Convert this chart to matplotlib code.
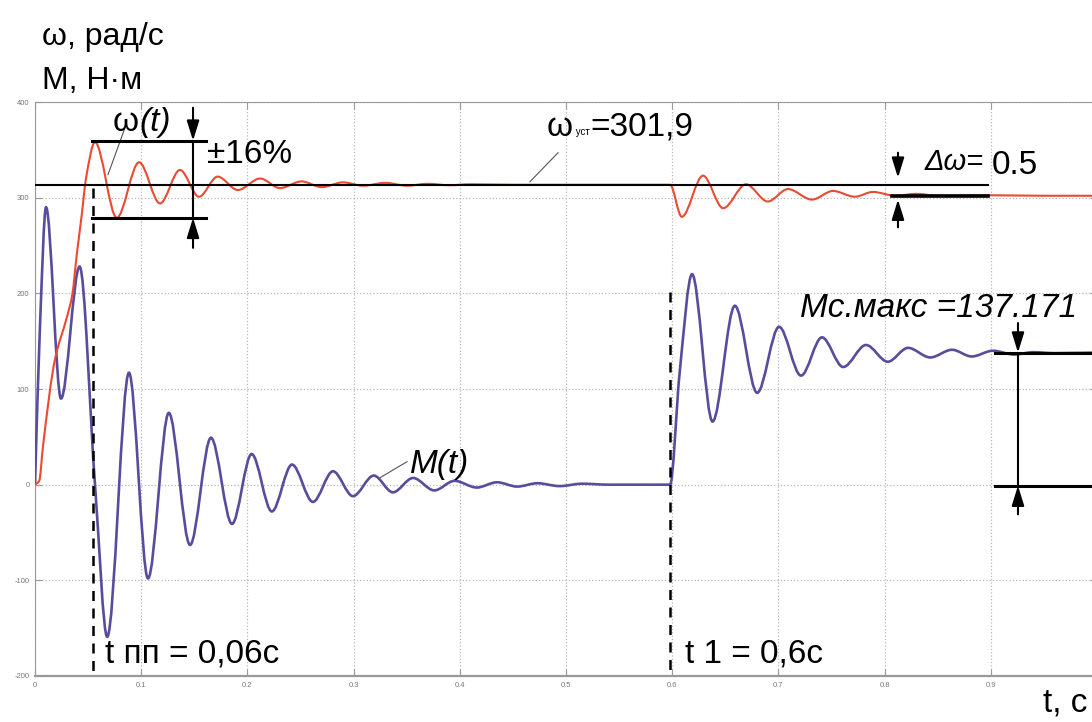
import numpy as np
import matplotlib
matplotlib.use("Agg")
import matplotlib.pyplot as plt
from matplotlib.path import Path
from matplotlib.patches import PathPatch

plt.rcParams['font.family'] = ['Liberation Sans', 'DejaVu Sans']
plt.rcParams['axes.unicode_minus'] = False

# --- values (time in s) ---
# angular speed omega(t), rad/s: extrema and a few shape points
w_t = [0, 0.004, 0.0075, 0.0188, 0.030, 0.035, 0.0395, 0.044, 0.048, 0.0565,
       0.077, 0.098, 0.1177, 0.1365, 0.1544, 0.172, 0.191, 0.212, 0.2307, 0.251,
       0.27, 0.29, 0.309, 0.33, 0.35, 0.37, 0.39, 0.41, 0.45, 0.50, 0.55, 0.598,
       0.609, 0.629, 0.648, 0.6695, 0.69, 0.709, 0.7316, 0.7514, 0.772, 0.789,
       0.81, 0.83, 0.85, 0.90, 0.95, 1.0]
w_v = [0, 4, 40, 131, 175, 198, 242, 282, 320, 358,
       279, 337, 294, 329, 301, 322, 308, 320, 310, 317,
       311, 316, 312.5, 315.5, 312.5, 314.5, 313, 314, 313.5, 313.5, 313.5, 313.5,
       280, 323, 289, 314, 296, 309, 298, 307, 301, 306,
       302, 304, 302, 302.5, 302, 302]

# torque M(t), N*m
m_t = [0, 0.0045, 0.0104, 0.0245, 0.042, 0.0565, 0.068, 0.0885, 0.1064, 0.126,
       0.146, 0.1657, 0.1855, 0.204, 0.223, 0.242, 0.2617, 0.2806, 0.2994, 0.319,
       0.337, 0.356, 0.376, 0.395, 0.416, 0.435, 0.454, 0.473, 0.494, 0.515, 0.54,
       0.598, 0.607, 0.6187, 0.638, 0.659, 0.68, 0.7006, 0.7213, 0.741, 0.761,
       0.7825, 0.803, 0.822, 0.843, 0.8635, 0.882, 0.902, 0.922, 0.94, 0.96, 1.0]
m_v = [0, 160, 290, 90, 228, 0, -159, 117, -98, 75,
       -63, 49, -41, 32, -28, 21, -18, 14, -12, 9.5,
       -8, 7, -6, 4, -3, 2.5, -2, 1.5, -1.5, 1, 0,
       0, 117, 220, 66, 187, 96, 165, 114, 154, 123,
       146, 128.5, 143, 133, 141, 134, 140, 136, 138.5, 137.5, 138]

x_ticks = [0, 0.1, 0.2, 0.3, 0.4, 0.5, 0.6, 0.7, 0.8, 0.9]
y_ticks = [-200, -100, 0, 100, 200, 300, 400]


def smooth_path(t, v):
    # cubic Bezier segments through the read points, tangents like PCHIP
    t = np.asarray(t, float)
    v = np.asarray(v, float)
    h = np.diff(t)
    d = np.diff(v) / h
    s = np.zeros_like(v)
    s[0] = d[0]
    for k in range(1, len(v) - 1):
        if d[k - 1] * d[k] > 0:
            w1 = 2 * h[k] + h[k - 1]
            w2 = h[k] + 2 * h[k - 1]
            s[k] = (w1 + w2) / (w1 / d[k - 1] + w2 / d[k])
    verts = [(t[0], v[0])]
    codes = [Path.MOVETO]
    for k in range(len(h)):
        verts += [(t[k] + h[k] / 3, v[k] + s[k] * h[k] / 3),
                  (t[k + 1] - h[k] / 3, v[k + 1] - s[k + 1] * h[k] / 3),
                  (t[k + 1], v[k + 1])]
        codes += [Path.CURVE4] * 3
    return Path(verts, codes)


fig = plt.figure(figsize=(10.92, 7.22), dpi=100)
ax = fig.add_axes([35 / 1092, 1 - 676 / 722, 1062 / 1092, 574 / 722])
ax.set_xlim(0, 1.0)
ax.set_ylim(-200, 400)
ax.set_xticks(x_ticks)
ax.set_yticks(y_ticks)
ax.set_xticklabels([str(x) if x else '0' for x in x_ticks])
ax.grid(True, linestyle=':', color='#b8b8b8', linewidth=0.9)
ax.tick_params(direction='in', top=True, right=True, length=5, color='#999999',
               labelsize=5.5, labelcolor='#777777', pad=4)
for sp in ax.spines.values():
    sp.set_color('#999999')
ax.spines['bottom'].set_linewidth(1.6)

red = '#ea4a30'
blue = '#5a4c9c'
ax.add_patch(PathPatch(smooth_path(m_t, m_v), facecolor='none', edgecolor=blue, lw=1.9, zorder=3))
ax.add_patch(PathPatch(smooth_path(w_t, w_v), facecolor='none', edgecolor=red, lw=1.5, zorder=3))

# annotation lines
k = dict(color='k', zorder=5)
ax.plot([0, 0.897], [313.5, 313.5], lw=1.5, **k)
ax.plot([0.0537, 0.161], [359.5, 359.5], lw=2.2, **k)
ax.plot([0.0537, 0.161], [279, 279], lw=2.2, **k)
ax.plot([0.1488, 0.1488], [359.5, 279], lw=1.5, **k)
ax.plot([0.0546, 0.0546], [310, -200], lw=1.8, ls=(0, (4, 3)), **k)
ax.plot([0.598, 0.598], [201.7, -200], lw=1.8, ls=(0, (4, 3)), **k)
ax.plot([0.807, 0.897], [302, 302], lw=2.6, **k)
ax.plot([0.904, 1.0], [138, 138], lw=2.2, **k)
ax.plot([0.904, 1.0], [-1, -1], lw=2.2, **k)
ax.plot([0.9256, 0.9256], [138, -1], lw=1.5, **k)

arrow = dict(arrowstyle='-|>,head_length=0.55,head_width=0.17', color='k', lw=1.5,
             mutation_scale=22, shrinkA=0, shrinkB=0)
for tail, tip in [((0.1488, 394), (0.1488, 359.5)), ((0.1488, 247.6), (0.1488, 279)),
                  ((0.8126, 347), (0.8126, 320.8)), ((0.8126, 269), (0.8126, 298)),
                  ((0.9256, 169), (0.9256, 138)), ((0.9256, -31), (0.9256, -1))]:
    ax.annotate('', xy=tip, xytext=tail, arrowprops=arrow, zorder=6)

# leader lines
g = dict(color='#555555', lw=0.8, zorder=4)
ax.plot([0.0847, 0.0687], [373, 324], **g)
ax.plot([0.4925, 0.466], [347, 316.6], **g)
ax.plot([0.3503, 0.3249], [24, 7.3], **g)

fs = 24
w1 = ax.text(0.0734, 370, 'ω', fontsize=fs, zorder=6)
ax.annotate('(t)', xy=(1, 0), xycoords=w1, va='bottom', fontsize=fs,
            style='italic', zorder=6)
ax.text(0.162, 336.5, '±16%', fontsize=fs, zorder=6)
w2 = ax.text(0.482, 364.7, 'ω', fontsize=fs, zorder=6)
sub = ax.annotate(' уст', xy=(1, 0), xycoords=w2, xytext=(0, 4),
                  textcoords='offset points', va='bottom', fontsize=7, zorder=6)
ax.annotate('=301,9', xy=(1, 0), xycoords=sub, xytext=(0, -4),
            textcoords='offset points', va='bottom', fontsize=fs, zorder=6)
ax.text(0.838, 329, 'Δω=', fontsize=21, style='italic', zorder=6)
ax.text(0.901, 325, '0.5', fontsize=fs, zorder=6)
ax.text(0.7203, 175.5, 'Мс.макс =137.171', fontsize=fs, style='italic', zorder=6)
ax.text(0.353, 12.5, 'M(t)', fontsize=fs, style='italic', zorder=6)
ax.text(0.0659, -186, 't пп = 0,06с', fontsize=fs, zorder=6)
ax.text(0.612, -186, 't 1 = 0,6с', fontsize=fs, zorder=6)

fig.text(42 / 1092, 1 - 45 / 722, 'ω, рад/с', fontsize=23)
fig.text(42 / 1092, 1 - 89 / 722, 'М, Н·м', fontsize=23)
fig.text(1043 / 1092, 1 - 712 / 722, 't, с', fontsize=fs)

fig.savefig('out.png', dpi=100)
